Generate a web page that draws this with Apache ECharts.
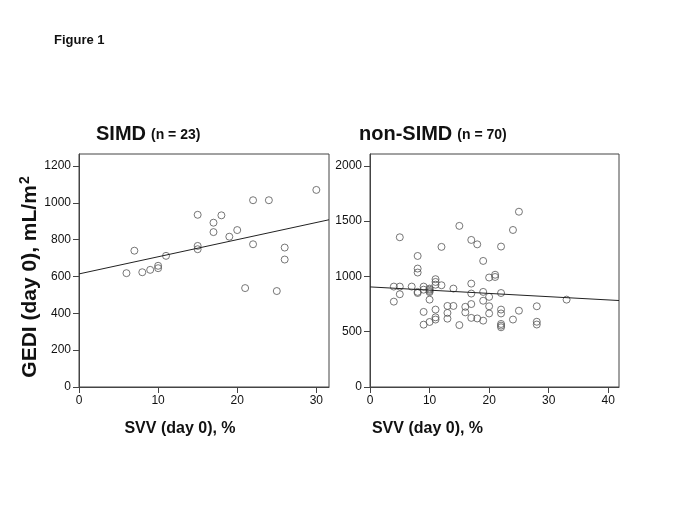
<!DOCTYPE html>
<html>
<head>
<meta charset="utf-8">
<script src="https://cdn.jsdelivr.net/npm/echarts@6/dist/echarts.min.js"></script>
<style>
html,body{margin:0;padding:0;background:#fff;}
#chart{width:685px;height:513px;}
</style>
</head>
<body>
<div id="chart"></div>
<script>
// ---- Data ----
var figureLabel = 'Figure 1';
var leftTitle = 'SIMD';
var leftN = '(n = 23)';
var rightTitle = 'non-SIMD';
var rightN = '(n = 70)';
var xAxisName = 'SVV (day 0), %';

var simdX = [6, 7, 8, 9, 10, 10, 11, 15, 15, 15, 17, 17, 18, 19, 20, 21, 22, 22, 24, 25, 26, 26, 30];
var simdY = [618, 740, 623, 636, 658, 645, 712, 935, 766, 748, 892, 841, 932, 816, 852, 537, 1014, 775, 1014, 521, 757, 692, 1070];

var nonX = [4, 4,
  5, 5, 5,
  7,
  8, 8, 8, 8, 8,
  9, 9, 9, 9,
  10, 10, 10, 10, 10, 10,
  11, 11, 11, 11, 11, 11,
  12, 12,
  13, 13, 13,
  14, 14,
  15, 15,
  16, 16,
  17, 17, 17, 17, 17,
  18, 18,
  19, 19, 19, 19,
  20, 20, 20, 20,
  21, 21,
  22, 22, 22, 22, 22, 22, 22,
  24, 24,
  25, 25,
  28, 28, 28,
  33];
var nonY = [908, 772,
  1354, 908, 839,
  908,
  1185, 1071, 1035, 860, 850,
  908, 880, 679, 564,
  890, 880, 868, 858, 790, 588,
  975, 950, 925, 700, 630, 610,
  1267, 920,
  733, 670, 618,
  890, 733,
  1457, 560,
  725, 675,
  1330, 935, 845, 750, 625,
  1290, 620,
  1140, 860, 780, 600,
  990, 815, 730, 665,
  1015, 995,
  1270, 850, 700, 665, 570, 555, 540,
  1420, 610,
  1585, 690,
  730, 590, 565,
  790];

// fitted regression lines (end points, data units)
var simdFitX = [0, 31.6];
var simdFitY = [614, 908];
var nonFitX = [0, 41.8];
var nonFitY = [905, 782];

// axis ranges and ticks
var leftXMax = 31.6, leftYMax = 1265;
var rightXMax = 41.8, rightYMax = 2107;
var leftXTicks = [0, 10, 20, 30];
var leftYTicks = [0, 200, 400, 600, 800, 1000, 1200];
var rightXTicks = [0, 10, 20, 30, 40];
var rightYTicks = [0, 500, 1000, 1500, 2000];

function zip(xs, ys) { return xs.map(function (x, i) { return [x, ys[i]]; }); }

var axisColor = '#444';
var font = 'Liberation Sans, Arial, sans-serif';
function plain(v) { return String(v); }

function xAxisCfg(idx, max, ticks, padRight) {
  return {
    type: 'value', gridIndex: idx, min: 0, max: max,
    splitLine: { show: false },
    axisLine: { show: true, onZero: false, lineStyle: { color: axisColor, width: 1 } },
    axisTick: { show: true, length: 6, inside: false, customValues: ticks, lineStyle: { color: axisColor } },
    axisLabel: { customValues: ticks, formatter: plain, color: '#111', fontSize: 12, fontFamily: font, margin: 8 },
    name: xAxisName, nameLocation: 'middle', nameGap: 34,
    nameTextStyle: { fontSize: 16, fontWeight: 'bold', color: '#111', fontFamily: font, padding: [0, padRight, 0, 0] }
  };
}
function yAxisCfg(idx, max, ticks, withName) {
  var c = {
    type: 'value', gridIndex: idx, min: 0, max: max,
    splitLine: { show: false },
    axisLine: { show: true, onZero: false, lineStyle: { color: axisColor, width: 1 } },
    axisTick: { show: true, length: 6, inside: false, customValues: ticks, lineStyle: { color: axisColor } },
    axisLabel: { customValues: ticks, formatter: plain, color: '#111', fontSize: 12, fontFamily: font, margin: 8 }
  };
  if (withName) {
    c.name = 'GEDI (day 0), mL/m{sup|2}';
    c.nameLocation = 'middle';
    c.nameGap = 29;
    c.nameTextStyle = {
      fontSize: 21, fontWeight: 'bold', color: '#111', fontFamily: font, padding: [0, 13, 0, 0],
      rich: { sup: { fontSize: 14, fontWeight: 'bold', color: '#111', fontFamily: font, padding: [0, 0, 10, 1] } }
    };
  }
  return c;
}

var chart = echarts.init(document.getElementById('chart'), null, { renderer: 'canvas' });
chart.setOption({
  backgroundColor: '#fff',
  animation: false,
  title: [
    { text: figureLabel, left: 49, top: 29, textStyle: { fontSize: 13, fontWeight: 'bold', color: '#111', fontFamily: font } },
    { text: '{a|' + leftTitle + '} {b|' + leftN + '}', left: 91, top: 119,
      textStyle: { rich: {
        a: { fontSize: 20, fontWeight: 'bold', color: '#111', fontFamily: font },
        b: { fontSize: 14, fontWeight: 'bold', color: '#111', fontFamily: font, padding: [3, 0, 0, 0] } } } },
    { text: '{a|' + rightTitle + '} {b|' + rightN + '}', left: 354, top: 119,
      textStyle: { rich: {
        a: { fontSize: 20, fontWeight: 'bold', color: '#111', fontFamily: font },
        b: { fontSize: 14, fontWeight: 'bold', color: '#111', fontFamily: font, padding: [3, 0, 0, 0] } } } }
  ],
  grid: [
    { left: 79, top: 154, width: 250, height: 233, show: true, borderColor: axisColor, borderWidth: 1, backgroundColor: 'transparent' },
    { left: 370, top: 154, width: 249, height: 233, show: true, borderColor: axisColor, borderWidth: 1, backgroundColor: 'transparent' }
  ],
  xAxis: [xAxisCfg(0, leftXMax, leftXTicks, 48), xAxisCfg(1, rightXMax, rightXTicks, 134)],
  yAxis: [yAxisCfg(0, leftYMax, leftYTicks, true), yAxisCfg(1, rightYMax, rightYTicks, false)],
  series: [
    { type: 'scatter', xAxisIndex: 0, yAxisIndex: 0, data: zip(simdX, simdY), symbol: 'circle', symbolSize: 7,
      itemStyle: { color: 'transparent', borderColor: '#555', borderWidth: 1 } },
    { type: 'line', xAxisIndex: 0, yAxisIndex: 0, data: zip(simdFitX, simdFitY), showSymbol: false,
      lineStyle: { color: '#222', width: 1 } },
    { type: 'scatter', xAxisIndex: 1, yAxisIndex: 1, data: zip(nonX, nonY), symbol: 'circle', symbolSize: 7,
      itemStyle: { color: 'transparent', borderColor: '#555', borderWidth: 1 } },
    { type: 'line', xAxisIndex: 1, yAxisIndex: 1, data: zip(nonFitX, nonFitY), showSymbol: false,
      lineStyle: { color: '#222', width: 1 } }
  ]
});
</script>
</body>
</html>
